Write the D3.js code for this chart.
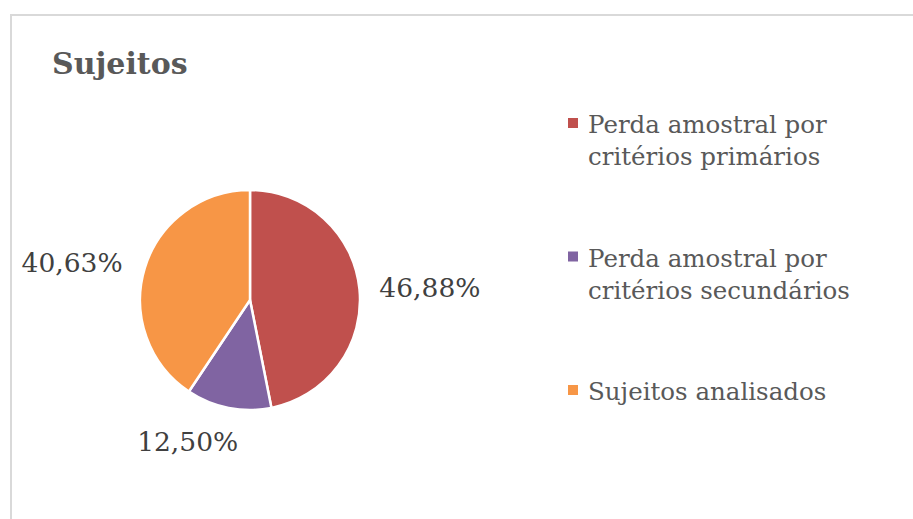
<!DOCTYPE html>
<html>
<head>
<meta charset="utf-8">
<script src="https://cdn.jsdelivr.net/npm/d3@7"></script>
<style>
  html, body { margin: 0; padding: 0; background: #fff; }
  svg { display: block; }
</style>
</head>
<body>
<svg id="chart-root" width="913" height="519"></svg>
<script>

// Data
const categories = ['Perda amostral por critérios primários', 'Perda amostral por critérios secundários', 'Sujeitos analisados'];
const values = [46.88, 12.50, 40.63];
const valueLabels = ['46,88%', '12,50%', '40,63%'];
const colors = ['#C0504D', '#8064A2', '#F79646'];
const title = 'Sujeitos';

const svg = d3.select('#chart-root');
const width = +svg.attr('width');
const height = +svg.attr('height');

const fontFamily = '"DejaVu Serif", "Liberation Serif", serif';

// chart frame (only top and left edges visible)
svg.append('path')
    .attr('d', `M11,${height} L11,15 L${width},15`)
    .attr('fill', 'none')
    .attr('stroke', '#d9d9d9')
    .attr('stroke-width', 2);

// Title
svg.append('text')
    .attr('x', 52)
    .attr('y', 74)
    .attr('font-family', fontFamily)
    .attr('font-weight', 'bold')
    .attr('font-size', 30)
    .attr('fill', '#595959')
    .text(title);

// Pie
const cx = 250;
const cy = 300;
const radius = 110;

const colorScale = d3.scaleOrdinal().domain(categories).range(colors);

const pie = d3.pie().sort(null).value(d => d.value);
const data = categories.map((c, i) => ({ name: c, value: values[i], label: valueLabels[i] }));
const arcs = pie(data);

const arc = d3.arc().innerRadius(0).outerRadius(radius);
const labelArc = d3.arc().innerRadius(radius + 20).outerRadius(radius + 20);

const pieGroup = svg.append('g').attr('transform', `translate(${cx}, ${cy})`);

pieGroup.selectAll('path')
    .data(arcs)
    .enter().append('path')
    .attr('d', arc)
    .attr('fill', d => colorScale(d.data.name))
    .attr('stroke', '#fff')
    .attr('stroke-width', 2.5)
    .attr('stroke-linejoin', 'round');

// nudges for labels placed like Excel's "outside end"
const labelNudge = { 1: [-37, 14], 2: [-3, 0] };

pieGroup.selectAll('text')
    .data(arcs)
    .enter().append('text')
    .attr('transform', function (d, i) {
        let p = labelArc.centroid(d);
        let n = labelNudge[i] || [0, 0];
        return `translate(${p[0] + n[0]}, ${p[1] + n[1]})`;
    })
    .attr('text-anchor', function (d) {
        let mid = (d.startAngle + d.endAngle) / 2;
        let s = Math.sin(mid);
        if (s > 0.5) return 'start';
        if (s < -0.5) return 'end';
        return 'middle';
    })
    .attr('dominant-baseline', 'central')
    .attr('font-family', fontFamily)
    .attr('font-size', 26.5)
    .attr('fill', '#404040')
    .text(d => d.data.label);

// Legend
const legendX = 568;
const legendY = d3.scaleLinear().domain([0, categories.length - 1]).range([133, 400]);
const lineHeight = 32;
const maxTextWidth = 265;

const legend = svg.append('g');

const items = legend.selectAll('g')
    .data(categories)
    .enter().append('g')
    .attr('transform', (d, i) => `translate(${legendX}, ${legendY(i)})`);

items.append('rect')
    .attr('x', 0)
    .attr('y', -15)
    .attr('width', 10)
    .attr('height', 10)
    .attr('fill', d => colorScale(d));

items.append('text')
    .attr('x', 20)
    .attr('y', 0)
    .attr('font-family', fontFamily)
    .attr('font-size', 24.5)
    .attr('fill', '#595959')
    .each(function (d) {
        // wrap words into lines
        const text = d3.select(this);
        const words = d.split(' ');
        let line = [];
        let tspan = text.append('tspan').attr('x', 20).attr('dy', 0);
        words.forEach(w => {
            line.push(w);
            tspan.text(line.join(' '));
            if (tspan.node().getComputedTextLength() > maxTextWidth && line.length > 1) {
                line.pop();
                tspan.text(line.join(' '));
                line = [w];
                tspan = text.append('tspan').attr('x', 20).attr('dy', lineHeight).text(w);
            }
        });
    });

</script>
</body>
</html>
